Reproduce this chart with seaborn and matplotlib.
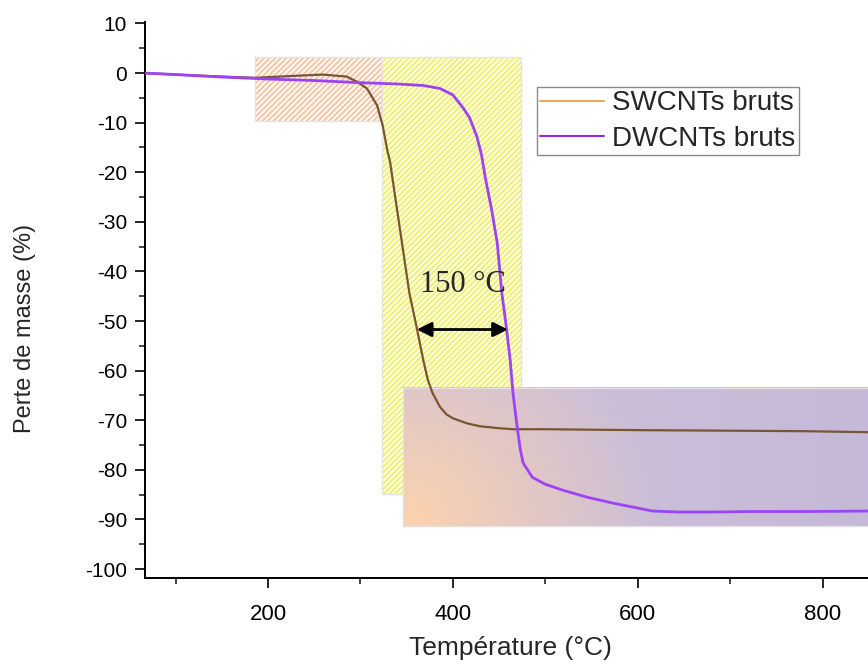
import numpy as np
import matplotlib
matplotlib.use("Agg")
import matplotlib.pyplot as plt
from matplotlib.patches import Rectangle
from matplotlib.lines import Line2D
from matplotlib.colors import to_rgb
from matplotlib.ticker import MultipleLocator
import seaborn as sns

# ─────────────────────────────────────────
# Data
# ─────────────────────────────────────────
swcnt_temp = [67, 100, 150, 186, 224, 259, 285, 296, 307, 318, 324, 329, 332,
              337, 345, 353, 361, 368, 373, 378, 386, 393, 400, 415, 429, 450,
              465, 500, 550, 610, 700, 780, 849]
swcnt_mass = [0.0, -0.3, -0.7, -0.95, -0.6, -0.3, -0.7, -1.7, -3.1, -6.5, -10.5,
              -15.5, -17.8, -24.2, -34.3, -44.4, -51.4, -57.9, -61.9, -64.5,
              -67.3, -68.8, -69.6, -70.6, -71.2, -71.6, -71.8, -71.8, -71.9,
              -72.0, -72.1, -72.2, -72.4]

dwcnt_temp = [67, 100, 150, 200, 250, 296, 340, 368, 386, 400, 411, 418, 426,
              431, 435, 442, 448, 453, 458, 462, 465, 468, 470, 473, 476, 486,
              500, 519, 545, 573, 600, 616, 645, 681, 720, 780, 849]
dwcnt_mass = [0.0, -0.3, -0.8, -1.2, -1.5, -1.9, -2.2, -2.5, -3.1, -4.4, -7.0,
              -9.0, -12.8, -16.5, -21.0, -27.6, -34.3, -44.4, -51.5, -57.9,
              -64.5, -69.0, -72.0, -76.0, -78.6, -81.5, -82.9, -84.1, -85.5,
              -86.7, -87.7, -88.3, -88.5, -88.5, -88.4, -88.4, -88.3]

series_labels = ["SWCNTs bruts", "DWCNTs bruts"]

# highlighted zones: (x0, x1, y0, y1)
zone_onset = (186, 323, -9.7, 3.2)
zone_loss = (323, 473.5, -84.9, 3.2)
zone_residue = (346, 860, -91.3, -63.4)

gap_ends = (361, 459.5)
gap_level = -51.7
gap_label = "150 °C"

x_ticks = [200, 400, 600, 800]
y_ticks = list(range(-100, 11, 10))

# ─────────────────────────────────────────
# Style
# ─────────────────────────────────────────
sns.set_style("ticks")
plt.rcParams["font.family"] = ["Liberation Sans", "DejaVu Sans"]
plt.rcParams["axes.unicode_minus"] = False
plt.rcParams["hatch.linewidth"] = 1.6

fig = plt.figure(figsize=(8.68, 6.70), dpi=100)
ax = fig.add_axes([145 / 868, 92 / 670, 723 / 868, 556 / 670])
ax.set_xlim(67, 849)
ax.set_ylim(-101.8, 10.3)


def zone(bounds, face, hatch_col, z, hatch="//////"):
    x0, x1, y0, y1 = bounds
    ax.add_patch(Rectangle((x0, y0), x1 - x0, y1 - y0, facecolor=face,
                           edgecolor=hatch_col, hatch=hatch, lw=0, zorder=z))
    ax.add_patch(Rectangle((x0, y0), x1 - x0, y1 - y0, facecolor="none",
                           edgecolor="#e4e4e4", lw=1, zorder=z))


# hatched zones
zone(zone_onset, "white", "#f3c9aa", 1)
zone(zone_loss, "white", "#f2f070", 1.1)

# gradient zone (peach -> lavender)
gx = np.linspace(0, 1, 300)
gy = np.linspace(0, 1, 60)
GX, GY = np.meshgrid(gx, gy)
t = np.clip(np.sqrt((GX / 0.55) ** 2 + (GY * 0.6) ** 2), 0, 1)  # GY=0 at bottom
c0, c1, c2 = np.array(to_rgb("#fdd3ad")), np.array(to_rgb("#cbbfd9")), np.array(to_rgb("#bfb2d7"))
img = (1 - t)[..., None] * c0 + t[..., None] * c1
img = img * (1 - 0.5 * GX[..., None] ** 2) + c2 * (0.5 * GX[..., None] ** 2)
ax.imshow(img, extent=[zone_residue[0], zone_residue[1], zone_residue[2], zone_residue[3]],
          origin="lower", aspect="auto", zorder=1.5, interpolation="bilinear")
ax.add_patch(Rectangle((zone_residue[0], zone_residue[2]), zone_residue[1] - zone_residue[0],
                       zone_residue[3] - zone_residue[2], facecolor="none",
                       edgecolor="#e0e0e0", lw=1, zorder=1.6))

# curves
sns.lineplot(x=swcnt_temp, y=swcnt_mass, ax=ax, color="#7a5532", lw=1.6, zorder=3)
sns.lineplot(x=dwcnt_temp, y=dwcnt_mass, ax=ax, color="#9d42f5", lw=2.0, zorder=3)

# gap arrow + label
ax.annotate("", xy=(gap_ends[0], gap_level), xytext=(gap_ends[1], gap_level),
            arrowprops=dict(arrowstyle="<|-|>", color="black", lw=2,
                            mutation_scale=22, shrinkA=0, shrinkB=0), zorder=4)
ax.text(sum(gap_ends) / 2 + 1, -42.7, gap_label, ha="center", va="center",
        fontsize=22, family=["Liberation Serif", "DejaVu Serif"], zorder=4)

# legend
handles = [Line2D([], [], color="#f5a455", lw=1.5),
           Line2D([], [], color="#8a2be2", lw=1.5)]
leg = ax.legend(handles, series_labels, loc="upper left", bbox_to_anchor=(0.542, 0.883),
                fontsize=20, handlelength=2.3, handletextpad=0.3, borderpad=0.12,
                labelspacing=0.35, borderaxespad=0, fancybox=False, framealpha=1,
                edgecolor="#8a8a8a")
leg.get_frame().set_linewidth(1.0)
leg.set_zorder(5)

# axes
ax.set_xticks(x_ticks)
ax.set_yticks(y_ticks)
ax.xaxis.set_minor_locator(MultipleLocator(100))
ax.yaxis.set_minor_locator(MultipleLocator(5))
ax.tick_params(which="major", direction="out", length=7, width=1.2, labelsize=15,
               colors="black")
ax.tick_params(which="minor", direction="out", length=4, width=1.2)
ax.tick_params(axis="x", pad=12, labelsize=16)
ax.tick_params(axis="y", pad=6)
ax.spines[["top", "right"]].set_visible(False)
for s in ("left", "bottom"):
    ax.spines[s].set_linewidth(1.4)
    ax.spines[s].set_color("black")
ax.set_xlabel("Température (°C)", fontsize=19)
ax.set_ylabel("Perte de masse (%)", fontsize=17)
ax.xaxis.set_label_coords((510 - 145) / 723, (578 - 648) / 556)
ax.yaxis.set_label_coords((25 - 145) / 723, (578 - 328) / 556)
ax.xaxis.label.set_va("center")
ax.yaxis.label.set_va("center")

fig.savefig("out.png", dpi=100)
